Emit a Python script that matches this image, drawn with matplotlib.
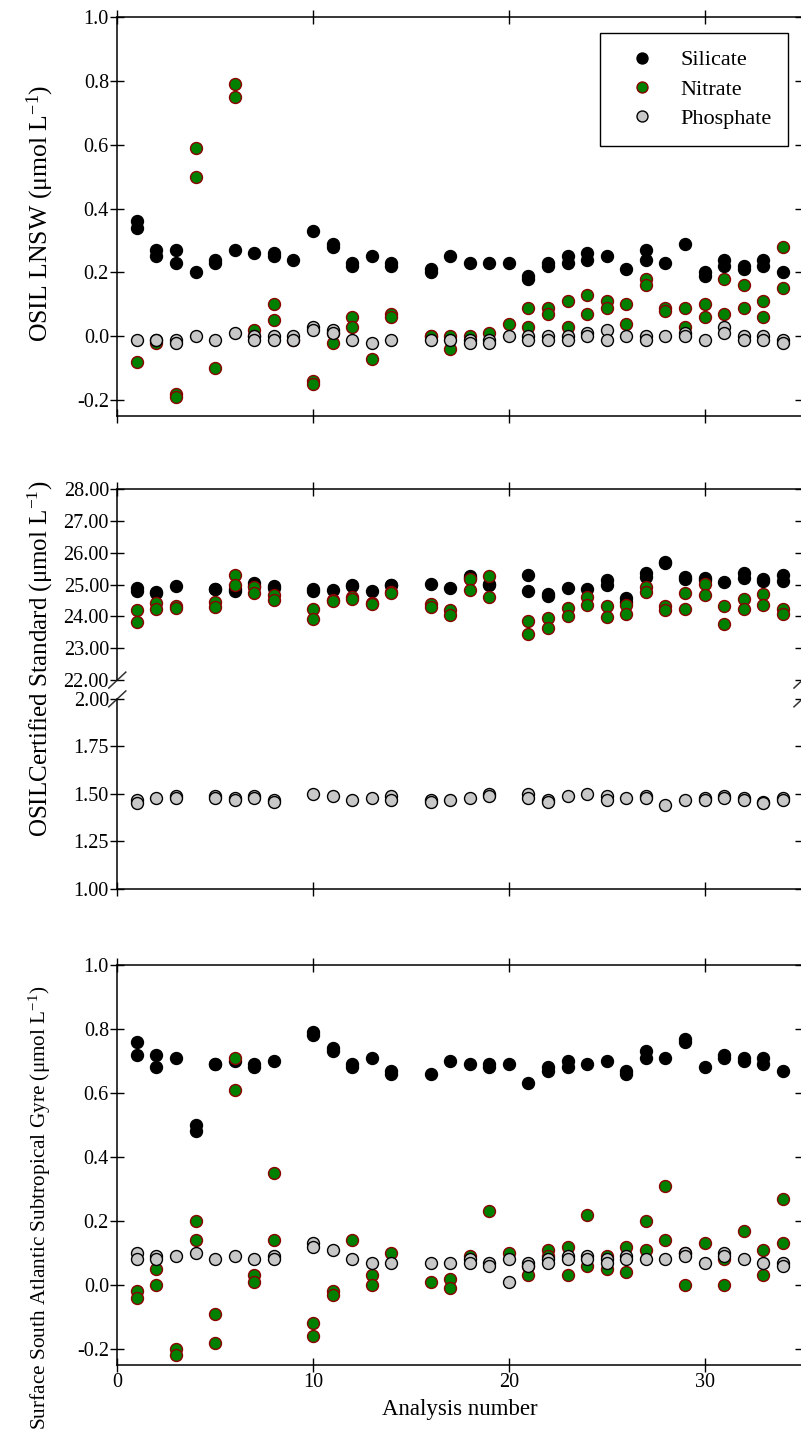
import numpy as np
import matplotlib
matplotlib.use("Agg")
import matplotlib.pyplot as plt
from matplotlib.ticker import FormatStrFormatter

plt.rcParams['font.family'] = ['Liberation Serif', 'DejaVu Serif']
plt.rcParams['mathtext.fontset'] = 'custom'
plt.rcParams['mathtext.rm'] = 'Liberation Serif'
plt.rcParams['mathtext.it'] = 'Liberation Serif:italic'
plt.rcParams['axes.unicode_minus'] = False

# ---------------- data ----------------
series_names = ["Silicate", "Nitrate", "Phosphate"]

# Panel 1: OSIL LNSW
top_x = [1, 2, 3, 4, 5, 6, 7, 8, 9, 10, 11, 12, 13, 14,
         16, 17, 18, 19, 20, 21, 22, 23, 24, 25, 26, 27, 28, 29, 30, 31, 32, 33, 34]
top_si = [[.36, .34], [.27, .25], [.27, .23], [.20], [.24, .23], [.27], [.26], [.26, .25], [.24],
          [.33], [.29, .28], [.23, .22], [.25], [.23, .22],
          [.21, .20], [.25], [.23], [.23], [.23], [.19, .18], [.23, .22], [.25, .23], [.26, .24],
          [.25], [.21], [.27, .24], [.23], [.29], [.20, .19], [.24, .22], [.22, .21], [.24, .22], [.20]]
top_no3 = [[-.08], [-.02], [-.18, -.19], [.59, .50], [-.10], [.79, .75], [.02, .00], [.10, .05], [-.01],
           [-.14, -.15], [.01, -.02], [.06, .03], [-.07], [.07, .06],
           [.00, .00], [.00, -.04], [.00], [.01], [.04], [.09, .03], [.09, .07], [.11, .03], [.13, .07],
           [.11, .09], [.10, .04], [.18, .16], [.09, .08], [.09, .03], [.10, .06], [.18, .07], [.16, .09],
           [.11, .06], [.28, .15]]
top_po4 = [[-.01], [-.01, -.01], [-.01, -.02], [.00], [-.01], [.01], [.00, -.01], [.00, -.01], [.00, -.01],
           [.03, .02], [.02, .01], [-.01], [-.02], [-.01],
           [-.01], [-.01], [-.01, -.02], [-.01, -.02], [.00], [.00, -.01], [.00, -.01], [.00, -.01],
           [.01, .00], [.02, -.01], [.00], [.00, -.01], [.00], [.01, .00], [-.01], [.03, .01],
           [.00, -.01], [.00, -.01], [-.01, -.02]]

# Panel 2: OSIL Certified Standard
mid_x = [1, 2, 3, 5, 6, 7, 8, 10, 11, 12, 13, 14, 16, 17, 18, 19,
         21, 22, 23, 24, 25, 26, 27, 28, 29, 30, 31, 32, 33, 34]
mid_si = [[24.90, 24.80], [24.78, 24.75], [24.95], [24.87, 24.85], [24.85, 24.80], [25.05, 24.95],
          [24.95, 24.90], [24.85, 24.80], [24.84], [24.99, 24.95], [24.80], [25.00, 24.97],
          [25.03], [24.90], [25.26, 25.20], [25.03, 24.98],
          [25.29, 24.81], [24.69, 24.65], [24.90], [24.85], [25.13, 24.98], [24.57, 24.45],
          [25.36, 25.24], [25.71, 25.68], [25.24, 25.18], [25.22, 25.15], [25.07], [25.36, 25.20],
          [25.16, 25.10], [25.31, 25.10]]
mid_no3 = [[24.20, 23.82], [24.43, 24.22], [24.32, 24.27], [24.45, 24.29], [25.31, 24.98], [24.93, 24.74],
           [24.66, 24.53], [24.22, 23.91], [24.51, 24.48], [24.60, 24.55], [24.43, 24.38], [24.76, 24.72],
           [24.40, 24.30], [24.20, 24.03], [25.18, 24.84], [25.28, 24.61],
           [23.85, 23.44], [23.94, 23.63], [24.25, 24.01], [24.61, 24.35], [24.32, 23.99], [24.35, 24.09],
           [24.92, 24.76], [24.34, 24.20], [24.74, 24.22], [25.03, 24.66], [24.32, 23.77], [24.55, 24.24],
           [24.69, 24.35], [24.22, 24.06]]
mid_po4 = [[1.47, 1.45], [1.48], [1.49, 1.48], [1.49, 1.48], [1.48, 1.47], [1.49, 1.48], [1.47, 1.46],
           [1.50], [1.49], [1.47], [1.48], [1.49, 1.47], [1.47, 1.46], [1.47], [1.48], [1.50, 1.49],
           [1.50, 1.48], [1.47, 1.46], [1.49], [1.50], [1.49, 1.47], [1.48], [1.49, 1.48], [1.44],
           [1.47], [1.48, 1.47], [1.49, 1.48], [1.48, 1.47], [1.46, 1.45], [1.48, 1.47]]

# Panel 3: Surface South Atlantic Subtropical Gyre
bot_x = [1, 2, 3, 4, 5, 6, 7, 8, 10, 11, 12, 13, 14,
         16, 17, 18, 19, 20, 21, 22, 23, 24, 25, 26, 27, 28, 29, 30, 31, 32, 33, 34]
bot_si = [[.76, .72], [.72, .68], [.71], [.50, .48], [.69, .69], [.70], [.69, .68], [.70],
          [.79, .78], [.74, .73], [.69, .68], [.71], [.67, .66],
          [.66], [.70], [.69], [.69, .68], [.69], [.63], [.68, .67], [.70, .68], [.69], [.70],
          [.67, .66], [.73, .71], [.71], [.77, .76], [.68], [.72, .71], [.71, .70], [.71, .69], [.67]]
bot_no3 = [[-.02, -.04], [.05, .00], [-.20, -.22], [.20, .14], [-.09, -.18], [.71, .61], [.03, .01],
           [.35, .14], [-.12, -.16], [-.02, -.03], [.14], [.03, .00], [.10],
           [.01], [.02, -.01], [.09], [.23], [.10], [.06, .03], [.11, .09], [.12, .03], [.22, .06],
           [.09, .05], [.12, .04], [.20, .11], [.31, .14], [.10, .00], [.13], [.08, .00], [.17],
           [.11, .03], [.27, .13]]
bot_po4 = [[.10, .08], [.09, .08], [.09], [.10], [.08], [.09], [.08], [.09, .08],
           [.13, .12], [.11], [.08], [.07], [.07],
           [.07], [.07], [.08, .07], [.07, .06], [.08, .01], [.07, .06], [.08, .07], [.09, .08],
           [.09, .08], [.08, .07], [.09, .08], [.08], [.08], [.10, .09], [.07], [.10, .09], [.08],
           [.07], [.07, .06]]

top_yticks = [-0.2, 0.0, 0.2, 0.4, 0.6, 0.8, 1.0]
mid_up_yticks = [22, 23, 24, 25, 26, 27, 28]
mid_lo_yticks = [1.00, 1.25, 1.50, 1.75, 2.00]
x_ticks = [0, 10, 20, 30]

ylabels = ["OSIL LNSW (\u03bcmol L$^{-1}$)",
           "OSILCertified Standard (\u03bcmol L$^{-1}$)",
           "Surface South Atlantic Subtropical Gyre (\u03bcmol L$^{-1}$)"]
xlabel = "Analysis number"


def flat(xs, groups):
    fx = [x for x, g in zip(xs, groups) for _ in g]
    fy = [v for g in groups for v in g]
    return fx, fy


# ---------------- styles ----------------
styles = [dict(marker='o', ls='none', ms=8.6, mfc='black', mec='black', mew=1.0),
          dict(marker='o', ls='none', ms=8.6, mfc='#008000', mec='#8B0000', mew=1.0),
          dict(marker='o', ls='none', ms=8.6, mfc='#C8C8C8', mec='black', mew=1.0)]

W, H = 801, 1449
fig = plt.figure(figsize=(W / 100, H / 100), dpi=100)


def frame(left, top, right, bottom):
    return [left / W, 1 - bottom / H, (right - left) / W, (bottom - top) / H]


L, R = 117.3, 802.5
ax1 = fig.add_axes(frame(L, 16.7, R, 416.3))
ax2u = fig.add_axes(frame(L, 489, R, 689))
ax2l = fig.add_axes(frame(L, 689, R, 889))
ax3 = fig.add_axes(frame(L, 965, R, 1365))

TICK_FS = 14.5


def base(ax):
    ax.set_xlim(0, 35)
    ax.set_xticks(x_ticks)
    for s in ax.spines.values():
        s.set_linewidth(1.1)
    ax.tick_params(which='major', direction='inout', length=10, width=1.0,
                   top=True, right=True, labelsize=TICK_FS, pad=1)
    ax.tick_params(axis='x', labelbottom=False)


def draw(ax, xs, groups_list, label=False):
    for name, groups, st in zip(series_names, groups_list, styles):
        fx, fy = flat(xs, groups)
        ax.plot(fx, fy, label=name if label else None, zorder=3, clip_on=False, **st)


# Top panel
base(ax1)
ax1.set_ylim(-0.25, 1.0)
ax1.set_yticks(top_yticks)
ax1.yaxis.set_major_formatter(FormatStrFormatter('%.1f'))
draw(ax1, top_x, [top_si, top_no3, top_po4], label=True)
leg = ax1.legend(loc='upper right', bbox_to_anchor=(0.9795, 0.959), borderaxespad=0,
                 fancybox=False, edgecolor='black', framealpha=1, fontsize=16,
                 borderpad=0.75, handlelength=2.25, handletextpad=0.63, labelspacing=0.4,
                 markerscale=0.92)
leg.get_frame().set_linewidth(1.0)

# Middle panel (broken axis)
base(ax2u)
base(ax2l)
ax2u.set_ylim(21.72, 28.0)
ax2u.set_yticks(mid_up_yticks)
ax2u.yaxis.set_major_formatter(FormatStrFormatter('%.2f'))
ax2u.spines['bottom'].set_visible(False)
ax2u.tick_params(axis='x', bottom=False)
ax2u.spines['left'].set_bounds(22.0, 28.0)
ax2u.spines['right'].set_bounds(22.0, 28.0)
ax2l.set_ylim(1.0, 2.052)
ax2l.set_yticks(mid_lo_yticks)
ax2l.yaxis.set_major_formatter(FormatStrFormatter('%.2f'))
ax2l.spines['top'].set_visible(False)
ax2l.tick_params(axis='x', top=False)
ax2l.spines['left'].set_bounds(1.0, 2.0)
ax2l.spines['right'].set_bounds(1.0, 2.0)
draw(ax2u, mid_x, [mid_si, mid_no3, []])
draw(ax2l, mid_x, [[], [], mid_po4])

# break marks
dx = 8.5 / (R - L)
for xc in (0.0, 1.0):
    ax2u.plot([xc - dx, xc + dx], [22.0 - 0.25, 22.0 + 0.25], transform=ax2u.get_yaxis_transform(),
              color='#333333', lw=1.1, clip_on=False)
    ax2l.plot([xc - dx, xc + dx], [2.0 - 8 / 192, 2.0 + 8 / 192], transform=ax2l.get_yaxis_transform(),
              color='#333333', lw=1.1, clip_on=False)

# Bottom panel
base(ax3)
ax3.set_ylim(-0.25, 1.0)
ax3.set_yticks(top_yticks)
ax3.yaxis.set_major_formatter(FormatStrFormatter('%.1f'))
ax3.tick_params(axis='x', labelbottom=True)
draw(ax3, bot_x, [bot_si, bot_no3, bot_po4])

# labels
fig.text(40 / W, 1 - 213 / H, ylabels[0], rotation=90, ha='center', va='center', fontsize=18.5)
fig.text(40 / W, 1 - 659 / H, ylabels[1], rotation=90, ha='center', va='center', fontsize=18)
fig.text(40 / W, 1 - 1208 / H, ylabels[2], rotation=90, ha='center', va='center', fontsize=15.3)
fig.text((L + R) / 2 / W, 1 - 1410 / H, xlabel, ha='center', va='center', fontsize=16.5)

fig.savefig("out.png", dpi=100)
